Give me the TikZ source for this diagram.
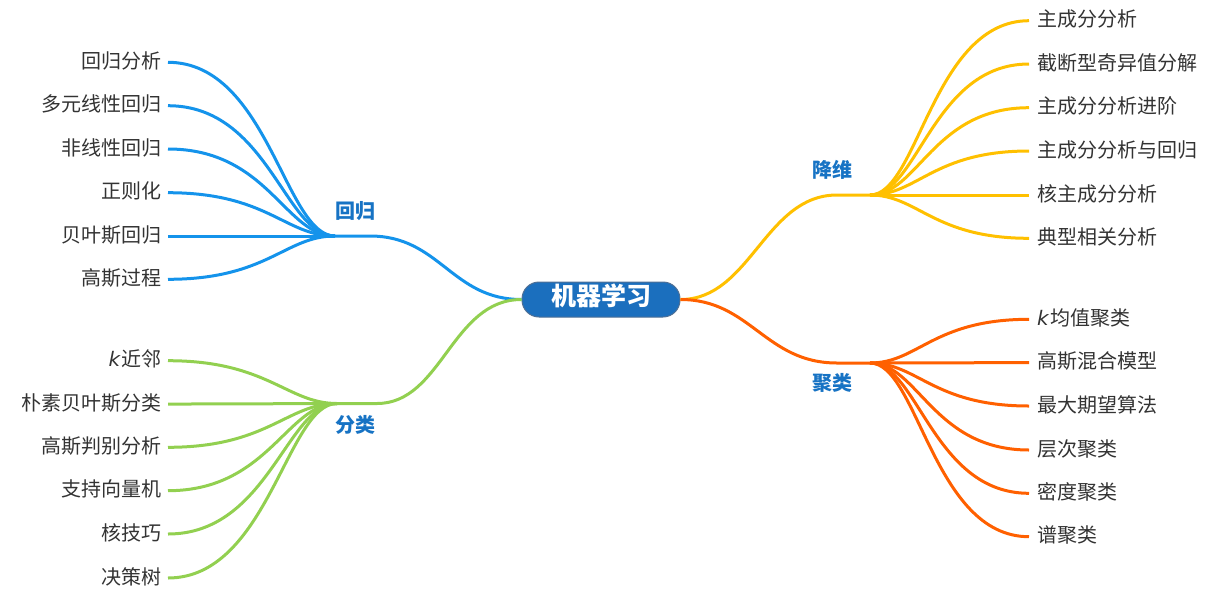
\documentclass[tikz,border=0pt]{standalone}
\usepackage{fontspec}
\newfontfamily\cjk{Noto Sans CJK SC}
\newfontfamily\latinit{DejaVu Sans}
\usetikzlibrary{calc}
\definecolor{cBlue}{HTML}{1493EB}
\definecolor{cGreen}{HTML}{92D050}
\definecolor{cYellow}{HTML}{FFC000}
\definecolor{cOrange}{HTML}{FF6000}
\definecolor{lbl}{HTML}{1773C4}
\definecolor{txt}{HTML}{333333}
\definecolor{cNode}{HTML}{1B6FBE}
\definecolor{cNodeB}{HTML}{4F6F95}
\newcommand{\kvar}{{\latinit\itshape k}\kern1.5pt}
\begin{document}
\begin{tikzpicture}[x=1pt,y=-1pt,
  leafR/.style={anchor=west, inner xsep=8pt, inner ysep=0pt, text height=1.2em, text depth=0em,
    font=\cjk\fontsize{20}{21}\selectfont, text=txt},
  leafL/.style={leafR, anchor=east, inner xsep=6pt},
  brlabel/.style={font=\cjk\bfseries\fontsize{20}{21}\selectfont, text=lbl, inner sep=0pt,
    text height=1.18em, text depth=0em},
  rootbox/.style={fill=cNode, draw=cNodeB, line width=1pt, rounded corners=17pt,
    minimum width=158pt, minimum height=35pt, inner sep=0pt, text=white,
    font=\cjk\bfseries\fontsize{25}{26}\selectfont, text height=1.12em, text depth=0em},
  ln/.style={line width=3pt},
]
\useasboundingbox (0,0) rectangle (1228,598);

\node[rootbox] (root) at (601,299.5) {机器学习};

% branch labels
\node[brlabel] (lRegr) at (355,213) {回归};
\node[brlabel] (lClass) at (355,427) {分类};
\node[brlabel] (lDim) at (832,172) {降维};
\node[brlabel] (lClust) at (832,385) {聚类};

% branch points
\coordinate (LTa) at (370,236);
\coordinate (LTb) at (335,236);
\coordinate (LBa) at (377,403.5);
\coordinate (LBb) at (337,403.5);
\coordinate (RTa) at (837,195);
\coordinate (RTb) at (870,195);
\coordinate (RBa) at (837,363);
\coordinate (RBb) at (870,363);

% main branches
\draw[ln, cBlue] (root.west) .. controls +(-70,0) and +(70,0) .. (LTa) -- (LTb);
\draw[ln, cGreen] (root.west) .. controls +(-70,0) and +(65,0) .. (LBa) -- (LBb);
\draw[ln, cYellow] (root.east) .. controls +(70,0) and +(-72,0) .. (RTa) -- (RTb);
\draw[ln, cOrange] (root.east) .. controls +(70,0) and +(-72,0) .. (RBa) -- (RBb);

% regression leaves
\foreach \n/\y/\t in {1/62.3/回归分析, 2/105.7/多元线性回归, 3/149/非线性回归, 4/192.7/正则化, 5/236/贝叶斯回归, 6/279.3/高斯过程}{
  \node[leafL] (a\n) at (168,\y) {\t};
  \draw[ln, cBlue] (LTb) .. controls +(-50,0) and +(100,0) .. (a\n.east);
}
% classification leaves
\foreach \n/\y/\t in {1/360.7/{\kvar 近邻}, 2/404/朴素贝叶斯分类, 3/447.3/高斯判别分析, 4/490.7/支持向量机, 5/534/核技巧, 6/578/决策树}{
  \node[leafL] (b\n) at (168,\y) {\t};
  \draw[ln, cGreen] (LBb) .. controls +(-50,0) and +(100,0) .. (b\n.east);
}
% dimensionality reduction leaves
\foreach \n/\y/\t in {1/20.7/主成分分析, 2/64/截断型奇异值分解, 3/107.7/主成分分析进阶, 4/151/主成分分析与回归, 5/195/核主成分分析, 6/238.3/典型相关分析}{
  \node[leafR] (c\n) at (1029,\y) {\t};
  \draw[ln, cYellow] (RTb) .. controls +(48,0) and +(-96,0) .. (c\n.west);
}
% clustering leaves
\foreach \n/\y/\t in {1/319.3/{\kvar 均值聚类}, 2/362.7/高斯混合模型, 3/406/最大期望算法, 4/450/层次聚类, 5/493.3/密度聚类, 6/536.7/谱聚类}{
  \node[leafR] (d\n) at (1029,\y) {\t};
  \draw[ln, cOrange] (RBb) .. controls +(48,0) and +(-96,0) .. (d\n.west);
}
\end{tikzpicture}
\end{document}
